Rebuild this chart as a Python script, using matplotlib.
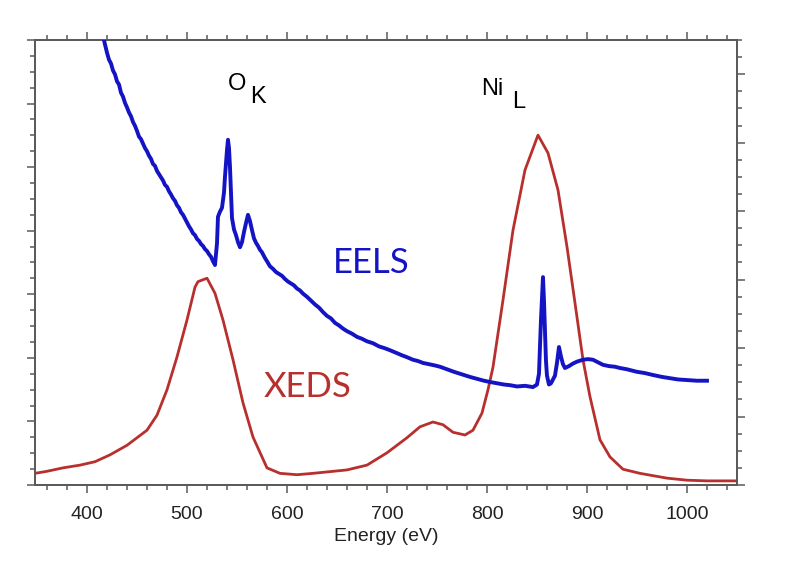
import matplotlib
matplotlib.use("Agg")
import matplotlib.pyplot as plt
from matplotlib.ticker import MultipleLocator

# EELS spectrum (left axis, arbitrary units)
eels_energy = [417, 418, 420, 422, 424, 426, 428, 430, 432, 434, 436, 438, 440, 442, 444, 446, 448,
               450, 452, 454, 456, 458, 460, 462, 464, 466, 468, 470, 472, 474, 476, 478, 480, 482,
               484, 486, 488, 490, 492, 494, 496, 498, 500, 502, 504, 506, 508, 510, 512, 514, 516,
               518, 520, 522, 524, 526, 528, 530, 531, 533, 535, 537, 538, 540, 541, 542, 543, 544,
               545, 547, 549, 551, 553, 555, 557, 559, 561, 563, 565, 567, 569, 571, 573, 575, 578,
               580, 583, 586, 589, 592, 595, 598, 601, 604, 607, 610, 613, 616, 620, 624, 628, 632,
               636, 640, 644, 648, 652, 656, 660, 665, 670, 675, 680, 686, 692, 698, 703, 709, 715,
               720, 726, 731, 736, 742, 748, 753, 760, 767, 775, 783, 790, 797, 803, 810, 817, 823,
               830, 838, 846, 850, 852, 854, 856, 857, 858, 859, 860, 862, 864, 866, 868, 870, 872,
               874, 876, 878, 882, 886, 890, 896, 901, 906, 911, 916, 922, 928, 933, 940, 945, 950,
               958, 966, 975, 983, 991, 1000, 1010, 1020]
eels_counts = [7.00, 6.93, 6.80, 6.69, 6.63, 6.52, 6.46, 6.35, 6.30, 6.17, 6.11, 6.01, 5.94, 5.86,
               5.80, 5.71, 5.65, 5.57, 5.48, 5.44, 5.37, 5.30, 5.25, 5.18, 5.13, 5.05, 5.02, 4.94,
               4.89, 4.84, 4.79, 4.72, 4.69, 4.62, 4.57, 4.51, 4.47, 4.40, 4.36, 4.29, 4.25, 4.19,
               4.13, 4.07, 4.02, 3.96, 3.93, 3.87, 3.84, 3.79, 3.76, 3.71, 3.68, 3.63, 3.59, 3.52,
               3.46, 3.80, 4.22, 4.30, 4.36, 4.60, 4.85, 5.27, 5.43, 5.30, 5.00, 4.60, 4.20, 4.02,
               3.93, 3.82, 3.74, 3.82, 3.98, 4.12, 4.25, 4.15, 4.01, 3.88, 3.81, 3.76, 3.70, 3.66,
               3.57, 3.52, 3.44, 3.40, 3.35, 3.32, 3.29, 3.24, 3.20, 3.17, 3.14, 3.09, 3.06, 3.01,
               2.96, 2.90, 2.84, 2.79, 2.72, 2.66, 2.62, 2.55, 2.51, 2.46, 2.42, 2.38, 2.33, 2.30,
               2.26, 2.23, 2.18, 2.15, 2.12, 2.08, 2.04, 2.01, 1.97, 1.95, 1.92, 1.90, 1.88, 1.86,
               1.82, 1.78, 1.74, 1.70, 1.67, 1.64, 1.62, 1.60, 1.58, 1.57, 1.55, 1.56, 1.54, 1.58,
               1.75, 2.60, 3.27, 2.90, 2.40, 1.95, 1.72, 1.58, 1.60, 1.66, 1.72, 1.92, 2.17, 2.02,
               1.90, 1.84, 1.87, 1.91, 1.94, 1.97, 1.98, 1.97, 1.93, 1.89, 1.87, 1.86, 1.84, 1.82,
               1.80, 1.78, 1.76, 1.73, 1.70, 1.68, 1.66, 1.65, 1.64, 1.64]

# XEDS spectrum (right axis, arbitrary units)
xeds_energy = [348, 360, 376, 393, 408, 423, 440, 460, 470, 480, 490, 500, 508, 511, 520, 528, 536,
               546, 556, 566, 580, 593, 610, 626, 660, 680, 700, 720, 733, 746, 756, 766, 778, 786,
               795, 801, 806, 816, 826, 838, 851, 861, 871, 880, 888, 896, 903, 913, 923, 936, 953,
               980, 1000, 1020, 1050]
xeds_counts = [0.17, 0.20, 0.25, 0.29, 0.34, 0.44, 0.58, 0.80, 1.02, 1.39, 1.87, 2.41, 2.89, 2.97,
               3.02, 2.80, 2.41, 1.83, 1.20, 0.70, 0.25, 0.17, 0.15, 0.17, 0.22, 0.29, 0.47, 0.69,
               0.85, 0.92, 0.88, 0.77, 0.73, 0.80, 1.05, 1.39, 1.72, 2.70, 3.72, 4.60, 5.11, 4.85,
               4.31, 3.48, 2.66, 1.83, 1.29, 0.66, 0.41, 0.23, 0.17, 0.10, 0.07, 0.06, 0.06]

x_ticks = [400, 500, 600, 700, 800, 900, 1000]

blue = '#1414c4'
red = '#b8302d'
grey = '#5a5a5a'

fig = plt.figure(figsize=(8.12, 5.88), dpi=100)
ax = fig.add_axes([0.0431, 0.1752, 0.8645, 0.7568])
ax2 = ax.twinx()

ax.plot(eels_energy, eels_counts, color=blue, lw=2.8, solid_joinstyle='round', zorder=3)
ax2.plot(xeds_energy, xeds_counts, color=red, lw=2.0, solid_joinstyle='round', zorder=2)
ax.set_zorder(ax2.get_zorder() + 1)
ax.patch.set_visible(False)

ax.set_xlim(348, 1050)
ax.set_ylim(0, 7)
ax2.set_ylim(0, 6.5)

ax.set_xticks(x_ticks)
ax.xaxis.set_minor_locator(MultipleLocator(20))
ax.yaxis.set_major_locator(MultipleLocator(1))
ax.yaxis.set_minor_locator(MultipleLocator(0.25))
ax2.yaxis.set_major_locator(MultipleLocator(1))
ax2.yaxis.set_minor_locator(MultipleLocator(0.25))

for a in (ax, ax2):
    for s in a.spines.values():
        s.set_color(grey)
        s.set_linewidth(1.3)
    a.tick_params(which='both', direction='out', color=grey, width=1.1)
    a.tick_params(which='major', length=6)
    a.tick_params(which='minor', length=3.5)
ax.tick_params(axis='x', which='both', top=True, labeltop=False)
ax.tick_params(axis='x', labelsize=14, pad=9, labelcolor='#222222')
ax.tick_params(axis='y', labelleft=False)
ax2.tick_params(axis='y', labelright=False)
for lbl in ax.get_xticklabels():
    lbl.set_fontfamily('Liberation Sans')

ax.set_xlabel('Energy (eV)', fontsize=14, family='Liberation Sans', color='#222222', labelpad=4)

ax.text(541, 6.21, 'O', fontsize=17, family='Liberation Sans', va='baseline')
ax.text(563, 6.01, 'K', fontsize=17, family='Liberation Sans', va='baseline')
ax.text(794, 6.13, 'Ni', fontsize=17, family='Liberation Sans', va='baseline')
ax.text(825, 5.93, 'L', fontsize=17, family='Liberation Sans', va='baseline')
ax.text(646, 3.33, 'EELS', fontsize=25, family='Lato', color=blue, va='baseline')
ax.text(577, 1.38, 'XEDS', fontsize=25, family='Lato', color=red, va='baseline')

fig.savefig('out.png', dpi=100)
